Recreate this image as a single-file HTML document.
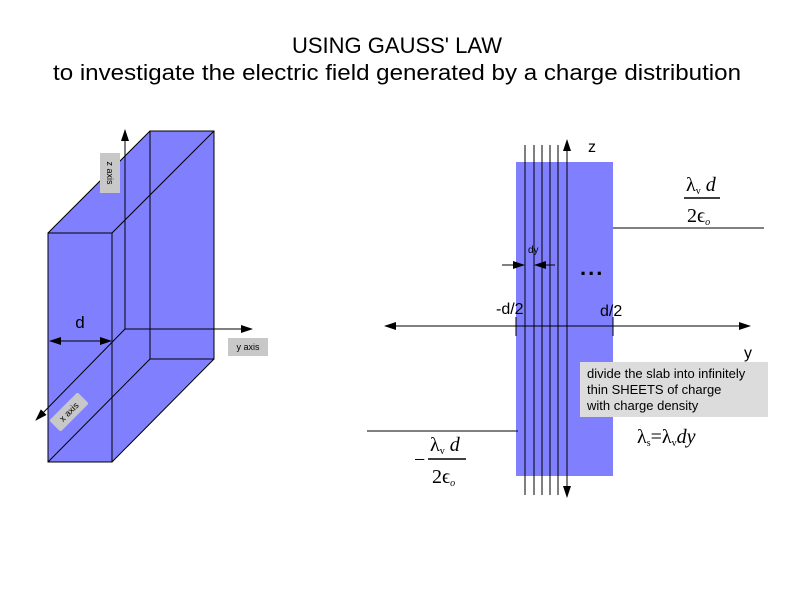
<!DOCTYPE html>
<html><head><meta charset="utf-8"><style>body{margin:0;background:#fff}svg{display:block}</style></head><body>
<svg width="800" height="600" viewBox="0 0 800 600" xmlns="http://www.w3.org/2000/svg" font-family="Liberation Sans, sans-serif">
<defs>
<marker id="a" markerWidth="12" markerHeight="8" refX="11" refY="4" orient="auto" markerUnits="userSpaceOnUse"><path d="M0,0 L12,4 L0,8 Z" fill="#000"/></marker>
</defs>
<text x="397" y="53" font-size="22" text-anchor="middle">USING GAUSS' LAW</text>
<text x="397" y="80" font-size="22" text-anchor="middle" textLength="688" lengthAdjust="spacingAndGlyphs">to investigate the electric field generated by a charge distribution</text>

<polygon points="48,233 150,131 214,131 214,359 112,462 48,462" fill="#8080ff"/>
<g stroke="#000" stroke-width="1" fill="none">
<rect x="48" y="233" width="64" height="229"/>
<rect x="150" y="131" width="64" height="228"/>
<line x1="48" y1="233" x2="150" y2="131"/>
<line x1="112" y1="233" x2="214" y2="131"/>
<line x1="48" y1="462" x2="150" y2="359"/>
<line x1="112" y1="462" x2="214" y2="359"/>
<line x1="125" y1="329" x2="125" y2="130" marker-end="url(#a)"/>
<line x1="125" y1="329" x2="252" y2="329" marker-end="url(#a)"/>
<line x1="125" y1="329" x2="36" y2="420" marker-end="url(#a)"/>
<line x1="80" y1="341" x2="50" y2="341" marker-end="url(#a)"/>
<line x1="80" y1="341" x2="111" y2="341" marker-end="url(#a)"/>
</g>
<text x="80" y="328" font-size="17" text-anchor="middle">d</text>
<rect x="100" y="153" width="20" height="40" fill="#c8c8c8"/>
<text transform="translate(107,173) rotate(90)" font-size="9" text-anchor="middle">z axis</text>
<rect x="228" y="338" width="40" height="18" fill="#c8c8c8"/>
<text x="248" y="350" font-size="9" text-anchor="middle">y axis</text>
<g transform="translate(69,412) rotate(-45)"><rect x="-20" y="-8" width="40" height="16" rx="2" fill="#c8c8c8"/><text x="0" y="3" font-size="9" text-anchor="middle">x axis</text></g>

<rect x="516" y="162" width="97" height="314" fill="#8080ff"/>
<g stroke="#000" stroke-width="1" fill="none">
<line x1="525" y1="145" x2="525" y2="495"/>
<line x1="534" y1="145" x2="534" y2="495"/>
<line x1="542" y1="145" x2="542" y2="495"/>
<line x1="550" y1="145" x2="550" y2="495"/>
<line x1="558" y1="145" x2="558" y2="495"/>
<line x1="567" y1="320" x2="567" y2="140" marker-end="url(#a)"/>
<line x1="567" y1="320" x2="567" y2="497" marker-end="url(#a)"/>
<line x1="570" y1="326" x2="750" y2="326" marker-end="url(#a)"/>
<line x1="570" y1="326" x2="385" y2="326" marker-end="url(#a)"/>
<line x1="516" y1="317" x2="516" y2="336"/>
<line x1="613" y1="317" x2="613" y2="336"/>
<line x1="613" y1="228" x2="764" y2="228"/>
<line x1="367" y1="431" x2="518" y2="431"/>
<line x1="502" y1="265" x2="524" y2="265" marker-end="url(#a)"/>
<line x1="555" y1="265" x2="535" y2="265" marker-end="url(#a)"/>
</g>
<text x="588" y="152" font-size="16">z</text>
<text x="528" y="253" font-size="10">dy</text>
<text x="580" y="275" font-size="22" font-weight="bold" letter-spacing="2">...</text>
<text x="496" y="314" font-size="16">-d/2</text>
<text x="600" y="316" font-size="16">d/2</text>
<text x="744" y="358" font-size="16">y</text>
<rect x="580" y="362" width="188" height="55" fill="#dcdcdc"/>
<text font-size="13"><tspan x="587" y="378">divide the slab into infinitely</tspan><tspan x="587" y="394">thin SHEETS of charge</tspan><tspan x="587" y="410">with charge density</tspan></text>
<g font-family="Liberation Serif, serif" font-size="20">
<text x="637" y="443">λ<tspan font-size="10" dy="3">s</tspan><tspan dy="-3">=λ</tspan><tspan font-size="10" dy="3">v</tspan><tspan dy="-3" font-style="italic">dy</tspan></text>
<text x="686" y="191">λ<tspan font-size="10" dy="3">v</tspan><tspan dy="-3" font-style="italic"> d</tspan></text>
<line x1="684" y1="198" x2="720" y2="198" stroke="#000" stroke-width="1.5"/>
<text x="687" y="222">2ϵ<tspan font-size="10" dy="3" font-style="italic">o</tspan></text>
<text x="414" y="466">−</text>
<text x="430" y="451">λ<tspan font-size="10" dy="3">v</tspan><tspan dy="-3" font-style="italic"> d</tspan></text>
<line x1="428" y1="459" x2="466" y2="459" stroke="#000" stroke-width="1.5"/>
<text x="432" y="483">2ϵ<tspan font-size="10" dy="3" font-style="italic">o</tspan></text>
</g>
</svg>
</body></html>
